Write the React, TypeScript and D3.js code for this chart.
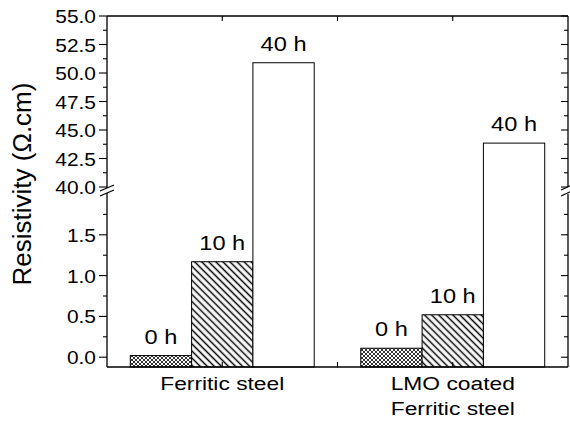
import React from "react";
import * as d3 from "d3";

const categories = ["Ferritic steel", "LMO coated|Ferritic steel"];
const durations = ["0 h", "10 h", "40 h"];
const ferriticValues = [0.02, 1.17, 50.9];
const lmoValues = [0.11, 0.52, 43.85];
const upperTicks = [40.0, 42.5, 45.0, 47.5, 50.0, 52.5, 55.0];
const upperMinor = [41.25, 43.75, 46.25, 48.75, 51.25, 53.75];
const lowerTicks = [0.0, 0.5, 1.0, 1.5];
const lowerMinor = [0.25, 0.75, 1.25, 1.75];
const xTicks = [1, 1.5, 2];

const W = 570;
const H = 422;
const FONT = "'Liberation Sans', Arial, Helvetica, sans-serif";

const L = 107, R = 568, TOP = 16, BOT = 367;
const UPPER_BOTTOM = 187, LOWER_TOP = 194;

const x = d3.scaleLinear().domain([0.5, 2.5]).range([L, R]);
const yUp = d3.scaleLinear().domain([40, 55]).range([UPPER_BOTTOM, TOP]);
const yLo = d3.scaleLinear().domain([-0.12, 2.0]).range([BOT, LOWER_TOP]);
const yPos = (v: number) => (v >= 40 ? yUp(v) : yLo(v));
const barW = 0.266;
const fmt = d3.format(".1f");

function SText({ x: tx, y: ty, sx = 1.15, size, anchor = "middle", children }: any) {
  return (
    <text
      transform={`translate(${tx},${ty}) scale(${sx},1)`}
      textAnchor={anchor}
      fontSize={size}
      fontFamily={FONT}
      fill="#000"
    >
      {children}
    </text>
  );
}

export default function App() {
  const series = [ferriticValues, lmoValues];
  const fills = ["url(#cross)", "url(#diag)", "#fff"];
  return (
    <svg
      width={W}
      height={H}
      style={{ position: "absolute", left: 0, top: 0, background: "#fff" }}
    >
      <defs>
        <pattern id="diag" patternUnits="userSpaceOnUse" width={5} height={5} patternTransform="rotate(-45)">
          <rect width={5} height={5} fill="#fff" />
          <line x1={2.5} y1={0} x2={2.5} y2={5} stroke="#000" strokeWidth={1.5} />
        </pattern>
        <pattern id="cross" patternUnits="userSpaceOnUse" width={4} height={4}>
          <rect width={4} height={4} fill="#fff" />
          <path d="M0,0 L4,4 M4,0 L0,4" stroke="#000" strokeWidth={0.8} />
        </pattern>
      </defs>
      <rect width={W} height={H} fill="#fff" />

      {/* bars */}
      {series.map((vals, ci) =>
        vals.map((v, i) => {
          const bw = x(barW) - x(0);
          const cx = x(ci + 1) + (i - 1) * bw;
          const x0 = cx - bw / 2;
          const yt = yPos(v);
          return (
            <g key={`${ci}-${i}`}>
              <rect x={x0} y={yt} width={bw} height={BOT - yt} fill={fills[i]} stroke="#000" strokeWidth={1} />
              <SText x={cx} y={yt - 12} size={20} sx={1.18}>
                {durations[i]}
              </SText>
            </g>
          );
        })
      )}

      {/* frame */}
      <g stroke="#000" strokeWidth={1.3} fill="none">
        <line x1={L} y1={TOP} x2={R} y2={TOP} />
        <line x1={L} y1={BOT} x2={R} y2={BOT} />
        <line x1={L} y1={TOP} x2={L} y2={UPPER_BOTTOM + 1} />
        <line x1={L} y1={LOWER_TOP - 1} x2={L} y2={BOT} />
        <line x1={R} y1={TOP} x2={R} y2={UPPER_BOTTOM} />
        <line x1={R} y1={LOWER_TOP} x2={R} y2={BOT} />
        {/* break marks */}
        <line x1={100} y1={191} x2={114} y2={185} />
        <line x1={100} y1={196} x2={114} y2={190} />
        <line x1={561} y1={190} x2={572} y2={185} />
        <line x1={561} y1={196} x2={572} y2={191} />
      </g>

      {/* left and right ticks */}
      <g stroke="#000" strokeWidth={1.1}>
        {upperTicks.map((t) => (
          <g key={`u${t}`}>
            <line x1={L - 8} x2={L} y1={yUp(t)} y2={yUp(t)} />
            <line x1={R - 7} x2={R} y1={yUp(t)} y2={yUp(t)} />
          </g>
        ))}
        {upperMinor.map((t) => (
          <g key={`um${t}`}>
            <line x1={L - 4} x2={L} y1={yUp(t)} y2={yUp(t)} />
            <line x1={R - 4} x2={R} y1={yUp(t)} y2={yUp(t)} />
          </g>
        ))}
        {lowerTicks.map((t) => (
          <g key={`l${t}`}>
            <line x1={L - 8} x2={L} y1={yLo(t)} y2={yLo(t)} />
            <line x1={R - 7} x2={R} y1={yLo(t)} y2={yLo(t)} />
          </g>
        ))}
        {lowerMinor.map((t) => (
          <g key={`lm${t}`}>
            <line x1={L - 4} x2={L} y1={yLo(t)} y2={yLo(t)} />
            <line x1={R - 4} x2={R} y1={yLo(t)} y2={yLo(t)} />
          </g>
        ))}
        {xTicks.map((t) => (
          <g key={`x${t}`}>
            <line x1={x(t)} x2={x(t)} y1={TOP} y2={TOP + 5} />
            <line x1={x(t)} x2={x(t)} y1={BOT} y2={BOT - 5} />
          </g>
        ))}
      </g>

      {/* tick labels */}
      {upperTicks.map((t) => (
        <SText key={`ut${t}`} x={96} y={yUp(t) + 7} size={19} sx={1.1} anchor="end">
          {fmt(t)}
        </SText>
      ))}
      {lowerTicks.map((t) => (
        <SText key={`lt${t}`} x={96} y={yLo(t) + 7} size={19} sx={1.1} anchor="end">
          {fmt(t)}
        </SText>
      ))}

      {/* category labels */}
      {categories.map((c, ci) =>
        c.split("|").map((line, li) => (
          <SText key={`c${ci}-${li}`} x={x(ci + 1)} y={390 + li * 25} size={19} sx={1.2}>
            {line}
          </SText>
        ))
      )}

      {/* y title */}
      <text
        transform="translate(31,184) rotate(-90)"
        textAnchor="middle"
        fontSize={26}
        fontFamily={FONT}
        fill="#000"
      >
        Resistivity (Ω.cm)
      </text>
    </svg>
  );
}
